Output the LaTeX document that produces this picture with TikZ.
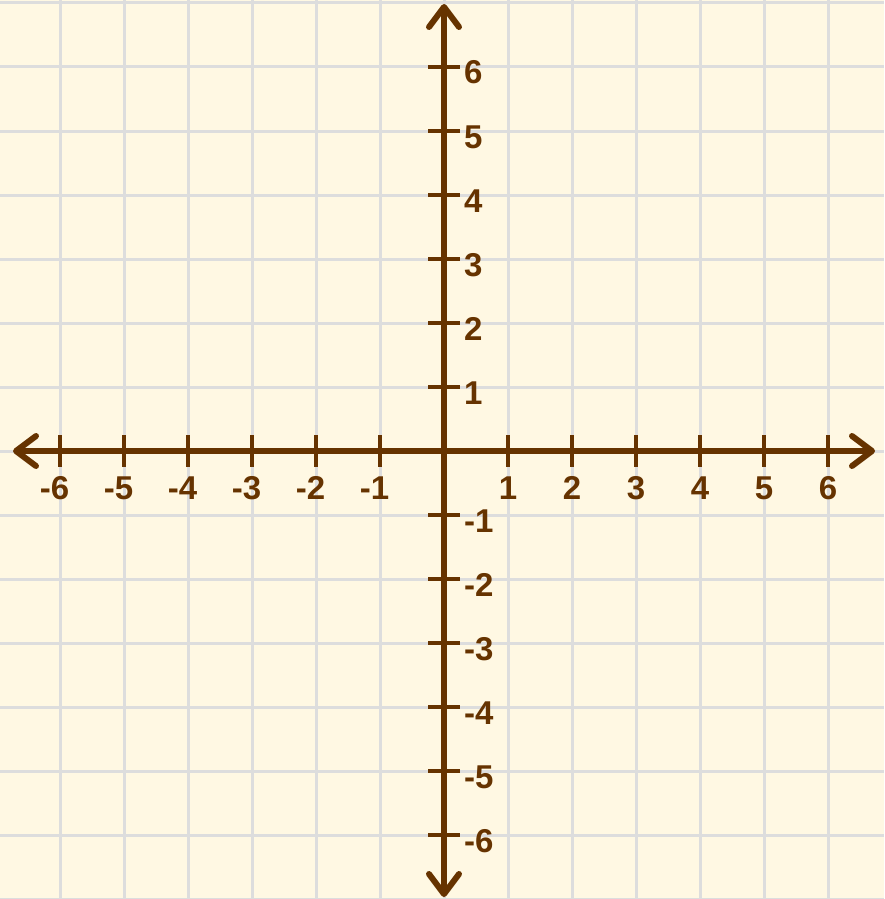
\documentclass[tikz,border=0pt]{standalone}
\usepackage{fontspec}
\setmainfont{Liberation Sans}
\usetikzlibrary{arrows.meta}
\definecolor{bg}{HTML}{FFF8E3}
\definecolor{gridc}{HTML}{DDDDDD}
\definecolor{axisc}{HTML}{663300}
\begin{document}
\begin{tikzpicture}[x=1pt,y=-1pt,
  gridline/.style={draw=gridc,line width=3pt},
  axisline/.style={draw=axisc,line width=6pt,
    {Straight Barb[length=20pt,width=30pt,round]}-{Straight Barb[length=20pt,width=30pt,round]}},
  tickmark/.style={draw=axisc,line width=4pt},
  lbl/.style={text=axisc,font=\fontsize{33}{33}\selectfont\bfseries,inner sep=0pt}]
\useasboundingbox (0,0) rectangle (884,899);
\fill[bg] (0,0) rectangle (884,899);
% grid
\foreach \k in {0,...,12} \draw[gridline] ({60+64*\k},0) -- ({60+64*\k},899);
\foreach \k in {0,...,14} \draw[gridline] (0,{3+64*\k}) -- (884,{3+64*\k});
% axes
\coordinate (xl) at (13,451);
\coordinate (xr) at (875,451);
\coordinate (yt) at (444,4);
\coordinate (yb) at (444,897);
\draw[axisline] (xl) -- (xr);
\draw[axisline] (yb) -- (yt);
% ticks and labels
\foreach \i in {-6,...,-1,1,2,...,6} {
  \coordinate (xt\i) at ({444+64*\i},451);
  \coordinate (yt\i) at (444,{451-64*\i});
  \draw[tickmark] ([yshift=16pt]xt\i) -- ([yshift=-16pt]xt\i);
  \draw[tickmark] ([xshift=-16pt]yt\i) -- ([xshift=16pt]yt\i);
}
\foreach \i in {1,...,6} {
  \node[lbl,anchor=base] (xlab\i) at ({444+64*\i},499) {\i};
  \node[lbl,anchor=base] (xlabm\i) at ({444-64*\i},499) {\llap{-}\i};
  \node[lbl,anchor=base west] (ylab\i) at (464,{451-64*\i+17}) {\i};
  \node[lbl,anchor=base west] (ylabm\i) at (464,{451+64*\i+17}) {-\i};
}
\end{tikzpicture}
\end{document}
